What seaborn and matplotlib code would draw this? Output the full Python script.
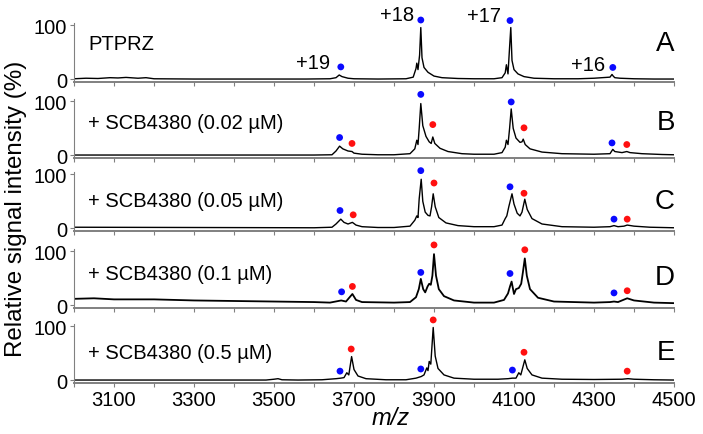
import pandas as pd
import matplotlib
matplotlib.use("Agg")
import matplotlib.pyplot as plt
import seaborn as sns

# spectra (m/z, relative intensity %)
mz_a = [3000, 3030, 3060, 3090, 3110, 3130, 3160, 3180, 3200, 3300, 3400, 3500, 3580, 3640, 3655, 3663, 3670, 3685,
        3700, 3760, 3830, 3848, 3855, 3857, 3860, 3864, 3867, 3870, 3875, 3885, 3900, 3920, 3960, 4000, 4050, 4070,
        4078, 4081, 4085, 4089, 4092, 4095, 4100, 4110, 4125, 4150, 4200, 4260, 4300, 4320, 4340, 4345, 4348, 4352,
        4365, 4400, 4450, 4500]
int_a = [1, 2, 1.5, 3, 2.5, 3.5, 2, 3, 1, 0.5, 0.5, 0.5, 0.5, 1, 3, 8, 5, 2,
         1, 0.5, 1, 4, 20, 30, 18, 45, 96, 40, 22, 13, 6, 3, 1.5, 1, 1, 3,
         12, 27, 10, 60, 96, 35, 18, 10, 5, 2, 1, 1, 2, 3, 4, 9, 6, 3,
         2, 1, 0.5, 0.5]

mz_b = [3000, 3300, 3600, 3645, 3655, 3664, 3672, 3685, 3695, 3700, 3720, 3760, 3800, 3840, 3852, 3857, 3860, 3863,
        3867, 3872, 3880, 3888, 3893, 3897, 3902, 3915, 3935, 3970, 4000, 4050, 4070, 4078, 4081, 4085, 4089, 4093,
        4098, 4105, 4115, 4120, 4123, 4128, 4140, 4170, 4220, 4300, 4340, 4347, 4352, 4370, 4382, 4390, 4420, 4470, 4500]
int_b = [0.5, 0.5, 0.5, 1, 8, 17, 12, 8, 7, 4, 2, 1, 1, 3, 12, 28, 20, 50,
         96, 55, 35, 25, 22, 34, 22, 13, 7, 3, 2, 2, 5, 15, 28, 20, 50, 86,
         50, 32, 24, 25, 30, 20, 12, 6, 3, 2, 3, 11, 7, 5, 7, 5, 3, 1.5, 1]

mz_c = [3000, 3300, 3600, 3645, 3655, 3667, 3675, 3685, 3696, 3705, 3720, 3760, 3800, 3840, 3852, 3857, 3860, 3863,
        3868, 3872, 3878, 3885, 3890, 3894, 3898, 3903, 3912, 3930, 3960, 4000, 4050, 4070, 4078, 4082, 4087, 4095,
        4100, 4108, 4115, 4120, 4127, 4133, 4145, 4170, 4220, 4300, 4340, 4350, 4360, 4375, 4383, 4400, 4440, 4500]
int_c = [2, 1.5, 1, 2, 8, 17, 11, 8, 11, 6, 3, 1.5, 1.5, 4, 15, 23, 20, 55,
         91, 50, 30, 24, 23, 40, 64, 40, 20, 10, 5, 3, 3, 6, 18, 23, 40, 64,
         45, 28, 23, 30, 54, 35, 18, 8, 3, 2, 3, 5, 3, 4, 6, 4, 2, 1]

mz_d = [3000, 3050, 3100, 3200, 3300, 3400, 3500, 3600, 3640, 3668, 3680, 3696, 3705, 3720, 3800, 3840, 3855, 3862,
        3867, 3873, 3878, 3884, 3888, 3892, 3896, 3900, 3905, 3912, 3925, 3950, 4000, 4050, 4075, 4085, 4090, 4094,
        4100, 4105, 4112, 4118, 4122, 4127, 4132, 4140, 4160, 4200, 4300, 4340, 4350, 4360, 4383, 4400, 4450, 4500]
int_d = [12, 13, 11, 11, 9, 8, 7, 6, 5, 9, 7, 21, 10, 6, 5, 6, 15, 30,
         49, 30, 24, 35, 40, 38, 55, 95, 55, 30, 17, 9, 5, 5, 10, 22, 35, 44,
         21, 30, 32, 40, 60, 87, 55, 30, 14, 7, 5, 6, 7, 6, 13, 9, 5, 4]

mz_e = [3000, 3480, 3500, 3510, 3520, 3560, 3620, 3655, 3667, 3675, 3682, 3687, 3694, 3700, 3710, 3730, 3780, 3830,
        3855, 3868, 3875, 3882, 3885, 3888, 3892, 3898, 3903, 3910, 3925, 3950, 4000, 4060, 4085, 4096, 4105, 4112,
        4117, 4127, 4133, 4145, 4170, 4220, 4300, 4370, 4385, 4400, 4450, 4500]
int_e = [0.5, 0.5, 2, 3, 1, 0.5, 1, 3, 4, 5, 14, 10, 44, 20, 8, 3, 1, 1,
         4, 7, 10, 23, 18, 35, 30, 98, 45, 22, 10, 4, 2, 2, 3, 4, 4, 14,
         10, 38, 22, 10, 4, 2, 1.5, 2, 3, 2, 1, 0.5]

# marker dots: blue = free protein, red = ligand-bound
blue_x = [[3667, 3867, 4090, 4347], [3664, 3867, 4093, 4345], [3665, 3867, 4090, 4350],
          [3669, 3867, 4090, 4350], [3665, 3867, 4096]]
blue_y = [[23, 110, 109, 22], [33, 113, 99, 23], [33, 107, 77, 17],
          [25, 61, 59, 23], [17, 21, 19]]
red_x = [[], [3695, 3897, 4125, 4382], [3698, 3900, 4125, 4383],
         [3696, 3900, 4127, 4383], [3693, 3898, 4125, 4383]]
red_y = [[], [22, 57, 51, 20], [25, 84, 65, 17],
         [35, 112, 103, 27], [58, 112, 52, 17]]

conditions = ["PTPRZ", "+ SCB4380 (0.02 µM)", "+ SCB4380 (0.05 µM)", "+ SCB4380 (0.1 µM)", "+ SCB4380 (0.5 µM)"]
cond_y = [67, 60, 52, 59, 52]
panel_letters = ["A", "B", "C", "D", "E"]
letter_y = [67, 62, 51, 52, 52]

charges = ["+19", "+18", "+17", "+16"]
charge_x = [3640, 3850, 4067, 4329]
charge_y = [31, 120, 119, 28]

spectra = [(mz_a, int_a), (mz_b, int_b), (mz_c, int_c), (mz_d, int_d), (mz_e, int_e)]

sns.set_style("ticks")
plt.rcParams['font.family'] = ['Liberation Sans', 'DejaVu Sans']
plt.rcParams['text.color'] = 'black'
plt.rcParams['axes.labelcolor'] = 'black'

fig = plt.figure(figsize=(7.03, 4.35), dpi=100)
bottoms_px = [83, 159, 232, 309, 384]
left, width = 74 / 703, 600 / 703
height = 76 / 435
grey = '#808080'

for i, (mz, inten) in enumerate(spectra):
    ax = fig.add_axes([left, (435 - bottoms_px[i]) / 435, width, height])
    ax.patch.set_alpha(0)
    df = pd.DataFrame({'mz': mz, 'intensity': inten})
    sns.lineplot(data=df, x='mz', y='intensity', ax=ax, color='black', lw=1.0 if i != 3 else 1.3,
                 estimator=None)
    sns.scatterplot(x=blue_x[i], y=blue_y[i], ax=ax, color='#0a0aff', s=24, edgecolor='none')
    if red_x[i]:
        sns.scatterplot(x=red_x[i], y=red_y[i], ax=ax, color='#ff1010', s=24, edgecolor='none')

    ax.set_xlim(3000, 4500)
    ax.set_ylim(-5, 136)
    ax.set_xticks(range(3000, 4501, 100))
    ax.set_yticks([0, 100])
    ax.set_xlabel('')
    ax.set_ylabel('')
    sns.despine(ax=ax)
    ax.spines['left'].set_bounds(-5, 105)
    ax.spines['left'].set_color(grey)
    ax.spines['bottom'].set_color(grey)
    ax.spines['bottom'].set_linewidth(1.4)
    ax.tick_params(axis='both', direction='out', length=3, color=grey, labelcolor='black',
                   labelsize=14.5, pad=2)
    if i < 4:
        ax.set_xticklabels([])
    else:
        ax.set_xticklabels([str(t) if (t // 100) % 2 == 1 else '' for t in range(3000, 4501, 100)])
        ax.set_xlabel('m/z', fontsize=17, style='italic')
        ax.xaxis.set_label_coords(0.528, -0.30)

    ax.text(3035, cond_y[i], conditions[i], fontsize=14.5, va='center', ha='left')
    ax.text(4502, letter_y[i], panel_letters[i], fontsize=20, va='center', ha='right')

    if i == 0:
        for lab, cx, cy in zip(charges, charge_x, charge_y):
            ax.text(cx, cy, lab, fontsize=14.5, va='center', ha='right')

fig.text(0.023, 0.52, 'Relative signal intensity (%)', rotation=90, fontsize=17.4, va='center', ha='center')

plt.savefig('out.png', dpi=100)
